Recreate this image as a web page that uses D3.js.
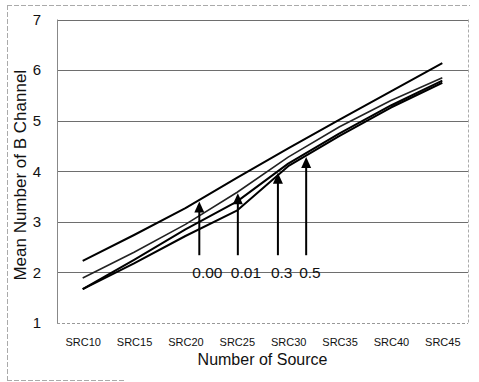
<!DOCTYPE html>
<html>
<head>
<meta charset="utf-8">
<script src="https://cdn.jsdelivr.net/npm/d3@7"></script>
<style>
  body { margin: 0; background: #fff; }
  svg { display: block; font-family: "Liberation Sans", Arial, sans-serif; }
</style>
</head>
<body>
<div id="chart"></div>
<script>
'use strict';
(function(){

	// data
	var categories = ['SRC10', 'SRC15', 'SRC20', 'SRC25', 'SRC30', 'SRC35', 'SRC40', 'SRC45'];
	var seriesNames = ['0.00', '0.01', '0.3', '0.5'];
	var s000 = [2.23, 2.74, 3.27, 3.87, 4.45, 5.02, 5.58, 6.14];
	var s001 = [1.89, 2.40, 2.95, 3.58, 4.28, 4.88, 5.40, 5.85];
	var s03  = [1.67, 2.25, 2.85, 3.40, 4.15, 4.75, 5.30, 5.79];
	var s05  = [1.67, 2.18, 2.72, 3.22, 4.10, 4.70, 5.26, 5.75];
	var yTicks = [1, 2, 3, 4, 5, 6, 7];

	// arrows: fractional category position where each arrow points at its series
	var arrowAt = [2.27, 3.02, 3.80, 4.35];
	var arrowBase = 2.34;
	var labelAt = 2.0;

	var series = [s000, s001, s03, s05];

	var width = 479, height = 382;
	var margin = {top: 19.5, right: 11, bottom: 59, left: 57};

	var svg = d3.select('#chart')
		.append('svg')
		.attr('width', width)
		.attr('height', height);

	var x = d3.scalePoint()
		.domain(categories)
		.range([margin.left, width - margin.right])
		.padding(0.5);

	// same spacing, but for fractional positions
	var xi = d3.scaleLinear()
		.domain([0, categories.length - 1])
		.range([x(categories[0]), x(categories[categories.length - 1])]);

	var y = d3.scaleLinear()
		.domain([1, 7])
		.range([height - margin.bottom, margin.top]);

	// outer frame (faint, dashed like the scan)
	var frame = svg.append('g')
		.attr('stroke', '#aaa')
		.attr('stroke-width', 1)
		.attr('stroke-dasharray', '5,2');
	frame.append('line').attr('x1', 7).attr('x2', 470).attr('y1', 5.5).attr('y2', 5.5);
	frame.append('line').attr('x1', 7.5).attr('x2', 7.5).attr('y1', 5).attr('y2', 380);
	frame.append('line').attr('x1', 7).attr('x2', 125).attr('y1', 380.5).attr('y2', 380.5);

	// gridlines
	svg.append('g')
		.selectAll('line')
		.data(yTicks)
		.enter()
		.append('line')
		.attr('x1', margin.left)
		.attr('x2', width - margin.right)
		.attr('y1', function (d) { return Math.round(y(d)) + 0.5; })
		.attr('y2', function (d) { return Math.round(y(d)) + 0.5; })
		.attr('stroke', function (d) { return d === 1 ? '#999' : '#6e6e6e'; })
		.attr('stroke-width', 1)
		.attr('stroke-dasharray', function (d) { return d === 1 ? '3,2' : null; });

	// plot border left / right
	svg.append('line')
		.attr('x1', margin.left + 0.5).attr('x2', margin.left + 0.5)
		.attr('y1', y(7)).attr('y2', y(1))
		.attr('stroke', '#888');
	svg.append('line')
		.attr('x1', width - margin.right + 0.5).attr('x2', width - margin.right + 0.5)
		.attr('y1', y(7)).attr('y2', y(1))
		.attr('stroke', '#aaa')
		.attr('stroke-dasharray', '3,2');

	// y axis
	var yAxis = svg.append('g')
		.attr('transform', 'translate(' + margin.left + ',0)')
		.call(d3.axisLeft(y).tickValues(yTicks).tickSize(0).tickPadding(16).tickFormat(d3.format('d')));
	yAxis.select('.domain').remove();
	yAxis.selectAll('text')
		.attr('font-size', 15)
		.attr('font-family', '"Liberation Sans", Arial, sans-serif')
		.attr('fill', '#111');

	// x axis
	var xAxis = svg.append('g')
		.attr('transform', 'translate(0,' + y(1) + ')')
		.call(d3.axisBottom(x).tickSize(0).tickPadding(15));
	xAxis.select('.domain').remove();
	xAxis.selectAll('text')
		.attr('font-size', 11)
		.attr('font-family', '"Liberation Sans", Arial, sans-serif')
		.attr('fill', '#111');

	// axis titles
	svg.append('text')
		.attr('x', (margin.left + width - margin.right) / 2)
		.attr('y', 365)
		.attr('text-anchor', 'middle')
		.attr('font-size', 16)
		.attr('fill', '#111')
		.text('Number of Source');

	svg.append('text')
		.attr('transform', 'translate(26,' + ((y(7) + y(1)) / 2 + 4) + ') rotate(-90)')
		.attr('text-anchor', 'middle')
		.attr('font-size', 17)
		.attr('fill', '#111')
		.text('Mean Number of B Channel');

	// lines
	var line = d3.line()
		.x(function (d, i) { return x(categories[i]); })
		.y(function (d) { return y(d); });

	svg.append('g')
		.selectAll('path')
		.data(series)
		.enter()
		.append('path')
		.attr('d', line)
		.attr('fill', 'none')
		.attr('stroke', function (d, i) { return i === 1 ? '#222' : '#000'; })
		.attr('stroke-width', function (d, i) { return i === 1 ? 1.6 : 2; })
		.attr('stroke-linejoin', 'round');

	// value of a series at a fractional category position
	function valueAt(s, p) {
		var i = Math.min(Math.floor(p), s.length - 2);
		var t = p - i;
		return s[i] + (s[i + 1] - s[i]) * t;
	}

	// arrows
	var arrows = svg.append('g');
	arrowAt.forEach(function (p, k) {
		var ax = xi(p);
		var tip = y(valueAt(series[k], p)) + 1.5;
		var base = y(arrowBase);
		arrows.append('line')
			.attr('x1', ax).attr('x2', ax)
			.attr('y1', base).attr('y2', tip + 8)
			.attr('stroke', '#000')
			.attr('stroke-width', 2);
		arrows.append('path')
			.attr('d', 'M' + ax + ',' + tip + 'L' + (ax - 5) + ',' + (tip + 11) + 'L' + (ax + 5) + ',' + (tip + 11) + 'Z')
			.attr('fill', '#000');
		svg.append('text')
			.attr('x', ax - 7)
			.attr('y', y(labelAt) + 5.5)
			.attr('font-size', 15.5)
			.attr('fill', '#111')
			.text(seriesNames[k]);
	});

}());
</script>
</body>
</html>
